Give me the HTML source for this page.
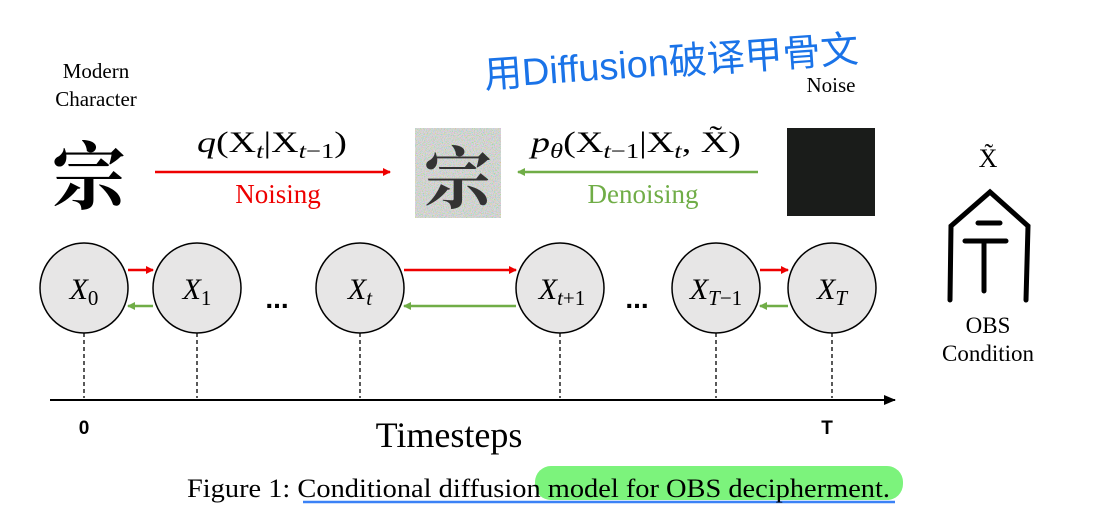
<!DOCTYPE html>
<html><head><meta charset="utf-8"><style>
body{margin:0;background:#fff;width:1097px;height:508px;overflow:hidden}
svg{display:block}
.s{font-family:"Liberation Serif",serif}
</style></head><body>
<svg width="1097" height="508" viewBox="0 0 1097 508">
<defs>
<filter id="nz" x="0" y="0" width="1" height="1"><feTurbulence type="fractalNoise" baseFrequency="0.9" numOctaves="2" seed="3"/><feColorMatrix type="saturate" values="3"/></filter>
<marker id="ar" markerWidth="8" markerHeight="8" refX="7" refY="4" orient="auto" markerUnits="userSpaceOnUse"><path d="M0,0L8,4L0,8z" fill="#e00"/></marker>
<marker id="ag" markerWidth="8" markerHeight="8" refX="7" refY="4" orient="auto" markerUnits="userSpaceOnUse"><path d="M0,0L8,4L0,8z" fill="#70ad47"/></marker>
<marker id="ak" markerWidth="12" markerHeight="10" refX="11" refY="5" orient="auto" markerUnits="userSpaceOnUse"><path d="M0,0L12,5L0,10z" fill="#000"/></marker>
</defs>
<text x="485" y="88" font-family="WenQuanYi Zen Hei,sans-serif" font-size="38" fill="#1a73e8" transform="rotate(-4 485 88)">用Diffusion破译甲骨文</text>
<text x="96" y="78" class="s" font-size="21" text-anchor="middle">Modern</text>
<text x="96" y="106" class="s" font-size="21" text-anchor="middle">Character</text>
<text x="831" y="92" class="s" font-size="21" text-anchor="middle">Noise</text>
<text x="89" y="203" font-family="Noto Serif CJK SC,serif" font-size="74" text-anchor="middle" font-weight="bold">宗</text>
<rect x="415" y="128" width="86" height="90" fill="#ddd"/>
<rect x="415" y="128" width="86" height="90" filter="url(#nz)" opacity="0.55"/>
<text x="458" y="203" font-family="Noto Serif CJK SC,serif" font-size="68" text-anchor="middle" fill="#333" font-weight="bold">宗</text>
<rect x="787" y="128" width="88" height="88" fill="#1a1c1a"/>
<line x1="155" y1="172" x2="390" y2="172" stroke="#e00" stroke-width="2.5" marker-end="url(#ar)"/>
<line x1="758" y1="172" x2="518" y2="172" stroke="#70ad47" stroke-width="2.5" marker-end="url(#ag)"/>
<text x="272" y="152" class="s" font-size="30" text-anchor="middle" textLength="150" lengthAdjust="spacingAndGlyphs"><tspan font-style="italic">q</tspan>(X<tspan font-style="italic" font-size="21" dy="6">t</tspan><tspan dy="-6">|X</tspan><tspan font-style="italic" font-size="21" dy="6">t</tspan><tspan font-size="21">−1</tspan><tspan dy="-6">)</tspan></text>
<text x="278" y="203" class="s" font-size="27" fill="#e00" text-anchor="middle">Noising</text>
<text x="636" y="152" class="s" font-size="30" text-anchor="middle" textLength="210" lengthAdjust="spacingAndGlyphs"><tspan font-style="italic">p</tspan><tspan font-style="italic" font-size="21" dy="6">θ</tspan><tspan dy="-6">(X</tspan><tspan font-style="italic" font-size="21" dy="6">t</tspan><tspan font-size="21">−1</tspan><tspan dy="-6">|X</tspan><tspan font-style="italic" font-size="21" dy="6">t</tspan><tspan dy="-6">, X̃)</tspan></text>
<text x="643" y="203" class="s" font-size="27" fill="#70ad47" text-anchor="middle">Denoising</text>
<text x="988" y="167" class="s" font-size="26" text-anchor="middle">X̃</text>
<g fill="none" stroke="#000" stroke-width="5" stroke-linecap="round">
<path d="M950,300L951,226L990,192L1028,226L1026,300"/>
<path d="M978,223L1000,223M965,241L1006,241M984,242L984,291"/>
</g>
<text x="988" y="333" class="s" font-size="23" text-anchor="middle">OBS</text>
<text x="988" y="361" class="s" font-size="23" text-anchor="middle">Condition</text>
<g stroke="#000" stroke-width="1.3" stroke-dasharray="4,3">
<line x1="84" y1="333" x2="84" y2="398"/><line x1="197" y1="333" x2="197" y2="398"/><line x1="360" y1="333" x2="360" y2="398"/><line x1="560" y1="333" x2="560" y2="398"/><line x1="716" y1="333" x2="716" y2="398"/><line x1="832" y1="333" x2="832" y2="398"/>
</g>
<g fill="#e7e6e6" stroke="#000" stroke-width="1.5">
<ellipse cx="84" cy="288" rx="44" ry="45"/><ellipse cx="197" cy="288" rx="44" ry="45"/><ellipse cx="360" cy="288" rx="44" ry="45"/><ellipse cx="560" cy="288" rx="44" ry="45"/><ellipse cx="716" cy="288" rx="44" ry="45"/><ellipse cx="832" cy="288" rx="44" ry="45"/>
</g>
<g stroke-width="2.5">
<line x1="128" y1="270" x2="153" y2="270" stroke="#e00" marker-end="url(#ar)"/>
<line x1="153" y1="306" x2="128" y2="306" stroke="#70ad47" marker-end="url(#ag)"/>
<line x1="404" y1="270" x2="516" y2="270" stroke="#e00" marker-end="url(#ar)"/>
<line x1="516" y1="306" x2="404" y2="306" stroke="#70ad47" marker-end="url(#ag)"/>
<line x1="760" y1="270" x2="788" y2="270" stroke="#e00" marker-end="url(#ar)"/>
<line x1="788" y1="306" x2="760" y2="306" stroke="#70ad47" marker-end="url(#ag)"/>
</g>
<g class="s" font-size="30" font-style="italic" text-anchor="middle">
<text x="84" y="299">X<tspan font-style="normal" font-size="21" dy="6">0</tspan></text>
<text x="197" y="299">X<tspan font-style="normal" font-size="21" dy="6">1</tspan></text>
<text x="360" y="299">X<tspan font-size="21" dy="6">t</tspan></text>
<text x="562" y="299">X<tspan font-size="21" dy="6">t</tspan><tspan font-style="normal" font-size="21">+1</tspan></text>
<text x="716" y="299">X<tspan font-size="21" dy="6">T</tspan><tspan font-style="normal" font-size="21">−1</tspan></text>
<text x="832" y="299">X<tspan font-size="21" dy="6">T</tspan></text>
</g>
<text x="277" y="308" font-family="Liberation Sans,sans-serif" font-size="28" font-weight="bold" text-anchor="middle">...</text>
<text x="637" y="308" font-family="Liberation Sans,sans-serif" font-size="28" font-weight="bold" text-anchor="middle">...</text>
<line x1="50" y1="400" x2="895" y2="400" stroke="#000" stroke-width="2" marker-end="url(#ak)"/>
<text x="84" y="434" font-family="Liberation Sans,sans-serif" font-size="19" font-weight="bold" text-anchor="middle">0</text>
<text x="827" y="434" font-family="Liberation Sans,sans-serif" font-size="19" font-weight="bold" text-anchor="middle">T</text>
<text x="449" y="447" class="s" font-size="36" text-anchor="middle">Timesteps</text>
<rect x="535" y="466" width="368" height="34" rx="16" fill="#7cf37c"/>
<line x1="303" y1="502" x2="895" y2="502" stroke="#3b82f6" stroke-width="2.5"/>
<text x="187" y="497" class="s" font-size="26" textLength="703" lengthAdjust="spacingAndGlyphs">Figure 1: Conditional diffusion model for OBS decipherment.</text>
</svg>
</body></html>
